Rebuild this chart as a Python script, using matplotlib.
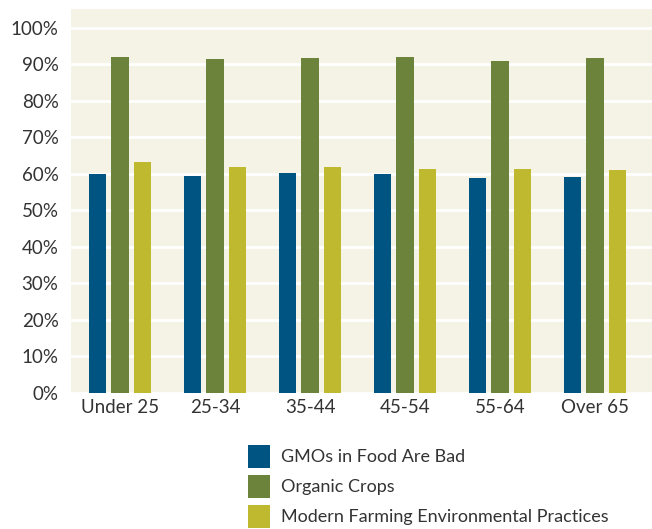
import matplotlib.pyplot as plt
import numpy as np

# survey results by age group (percent agreeing)
groups = ['Under 25', '25-34', '35-44', '45-54', '55-64', 'Over 65']
gmo_bad = [60.0, 59.5, 60.2, 60.0, 59.0, 59.2]
organic = [92.0, 91.5, 91.8, 92.0, 91.0, 91.8]
modern_farming = [63.2, 62.0, 62.0, 61.3, 61.3, 61.0]
series_names = ['GMOs in Food Are Bad', 'Organic Crops',
                'Modern Farming Environmental Practices']
yticks = list(range(0, 101, 10))

colors = ['#005482', '#6b833b', '#bfb92f']
bg = '#f5f3e5'
txt = '#333333'

plt.rcParams['font.family'] = ['Lato', 'DejaVu Sans']

fig = plt.figure(figsize=(6.52, 5.29), dpi=100)
ax = fig.add_axes([0.1089, 0.2571, 0.8911, 0.7259])
ax.set_facecolor(bg)

x = np.arange(len(groups))
width = 0.18
offsets = [-0.237, 0.0, 0.237]
handles = []
for vals, off, c, name in zip([gmo_bad, organic, modern_farming], offsets, colors, series_names):
    b = ax.bar(x + off, vals, width, color=c, label=name, zorder=3)
    handles.append(b)

ax.set_ylim(0, 105.2)
ax.set_xlim(-0.516, 5.6)
ax.set_yticks(yticks)
ax.set_yticklabels(['{}%'.format(t) for t in yticks])
ax.set_xticks(x)
ax.set_xticklabels(groups)
ax.tick_params(axis='both', length=0, labelsize=13.5, colors=txt)
ax.tick_params(axis='y', pad=9)
ax.tick_params(axis='x', pad=4)
ax.grid(axis='y', color='white', linewidth=2, zorder=1)
ax.set_axisbelow(True)
for s in ax.spines.values():
    s.set_visible(False)

fig.legend(handles=handles, labels=series_names, loc='upper left',
           bbox_to_anchor=(0.380, 0.159), frameon=False, fontsize=13,
           handlelength=1.22, handleheight=1.58, handletextpad=0.6,
           labelspacing=0.39, borderpad=0, borderaxespad=0, labelcolor=txt)

fig.savefig('out.png', dpi=100)
